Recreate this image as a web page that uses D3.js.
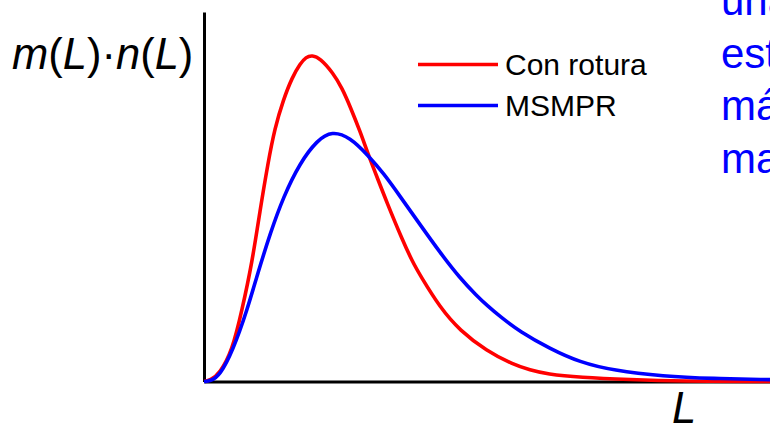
<!DOCTYPE html>
<html>
<head>
<meta charset="utf-8">
<script src="https://cdn.jsdelivr.net/npm/d3@7"></script>
<style>
  body { margin: 0; background: #ffffff; }
  svg { display: block; font-family: "Liberation Sans", Arial, sans-serif; }
</style>
</head>
<body>
<div id="chart"></div>
<script>
// Curve data (L in arbitrary units, y normalised)
var redL = [0, 0.11, 0.28, 0.50, 0.67, 0.85, 0.99, 1.13, 1.25, 1.40, 1.56, 1.70, 1.80, 1.91, 2.05,
  2.28, 2.44, 2.58, 2.76, 2.90, 3.07, 3.23, 3.50, 3.69, 3.82, 4.17, 4.52, 4.99, 5.46,
  5.76, 6.06, 6.64, 7.53, 8.41, 10];
var redY = [0, 0.003, 0.022, 0.084, 0.192, 0.322, 0.463, 0.591, 0.685, 0.762, 0.824, 0.860, 0.878, 0.883, 0.875,
  0.835, 0.794, 0.745, 0.676, 0.615, 0.548, 0.485, 0.385, 0.322, 0.287, 0.200, 0.138, 0.083, 0.046,
  0.031, 0.020, 0.011, 0.005, 0.001, 0];

var blueL = [0, 0.11, 0.28, 0.51, 0.76, 0.95, 1.17, 1.40, 1.70, 2.00, 2.26, 2.58, 2.90, 3.18, 3.46,
  3.82, 4.17, 4.52, 4.82, 5.00, 5.23, 5.58, 6.11, 6.64, 7.23, 8.11, 8.99, 10];
var blueY = [0, 0.001, 0.016, 0.084, 0.192, 0.293, 0.401, 0.499, 0.593, 0.653, 0.678, 0.661, 0.612, 0.562, 0.502,
  0.424, 0.349, 0.280, 0.232, 0.206, 0.176, 0.135, 0.089, 0.052, 0.030, 0.014, 0.008, 0.005];

var seriesNames = ["Con rotura", "MSMPR"];
var seriesColors = ["#ff0000", "#0000ff"];
var sideText = ["una", "estrecha", "más", "mayor"];

var svgWidth = 770;
var svgHeight = 424;

var svg = d3.select("#chart")
  .append("svg")
  .attr("width", svgWidth)
  .attr("height", svgHeight);

var xScale = d3.scaleLinear().domain([0, 10]).range([204, 770]);
var yScale = d3.scaleLinear().domain([0, 1]).range([381.5, 12]);

// axes: plain lines, no ticks
var xAxis = svg.append("g")
  .attr("transform", "translate(0, 381.5)")
  .call(d3.axisBottom(xScale).tickValues([]).tickSizeOuter(0));

var yAxis = svg.append("g")
  .attr("transform", "translate(204, 0)")
  .call(d3.axisLeft(yScale).tickValues([]).tickSizeOuter(0));

svg.selectAll(".domain")
  .attr("stroke", "#000")
  .attr("stroke-width", 3);

var series = [
  redL.map(function(d, i) { return [d, redY[i]]; }),
  blueL.map(function(d, i) { return [d, blueY[i]]; })
];

var line = d3.line()
  .x(d => xScale(d[0]))
  .y(d => yScale(d[1]))
  .curve(d3.curveBasis);

svg.selectAll("path.curve")
  .data(series)
  .enter()
  .append("path")
  .attr("class", "curve")
  .attr("d", line)
  .attr("fill", "none")
  .attr("stroke", (d, i) => seriesColors[i])
  .attr("stroke-width", 3.6);

// legend
var legend = svg.append("g")
  .attr("transform", "translate(418, 64.5)");

legend.selectAll("line")
  .data(seriesNames)
  .enter()
  .append("line")
  .attr("x1", 0)
  .attr("x2", 80)
  .attr("y1", (d, i) => i * 41)
  .attr("y2", (d, i) => i * 41)
  .attr("stroke", (d, i) => seriesColors[i])
  .attr("stroke-width", 3.6);

legend.selectAll("text")
  .data(seriesNames)
  .enter()
  .append("text")
  .attr("x", 87)
  .attr("y", (d, i) => i * 41 + 10.5)
  .attr("font-size", "30px")
  .attr("fill", "#000")
  .text(d => d);

// axis labels
var yLabel = svg.append("text")
  .attr("x", 12)
  .attr("y", 69)
  .attr("font-size", "43.5px")
  .attr("fill", "#000");

var yParts = [["m", true], ["(", false], ["L", true], [")", false], ["·", false],
  ["n", true], ["(", false], ["L", true], [")", false]];

yLabel.selectAll("tspan")
  .data(yParts)
  .enter()
  .append("tspan")
  .attr("font-style", d => d[1] ? "italic" : "normal")
  .text(d => d[0]);

svg.append("text")
  .attr("x", 672)
  .attr("y", 423)
  .attr("font-size", "43.5px")
  .attr("font-style", "italic")
  .attr("fill", "#000")
  .text("L");

// blue text running off the right edge
svg.selectAll("text.side")
  .data(sideText)
  .enter()
  .append("text")
  .attr("class", "side")
  .attr("x", 721)
  .attr("y", (d, i) => 15 + i * 52.5)
  .attr("font-size", "42px")
  .attr("fill", "#0000ff")
  .text(d => d);
</script>
</body>
</html>
